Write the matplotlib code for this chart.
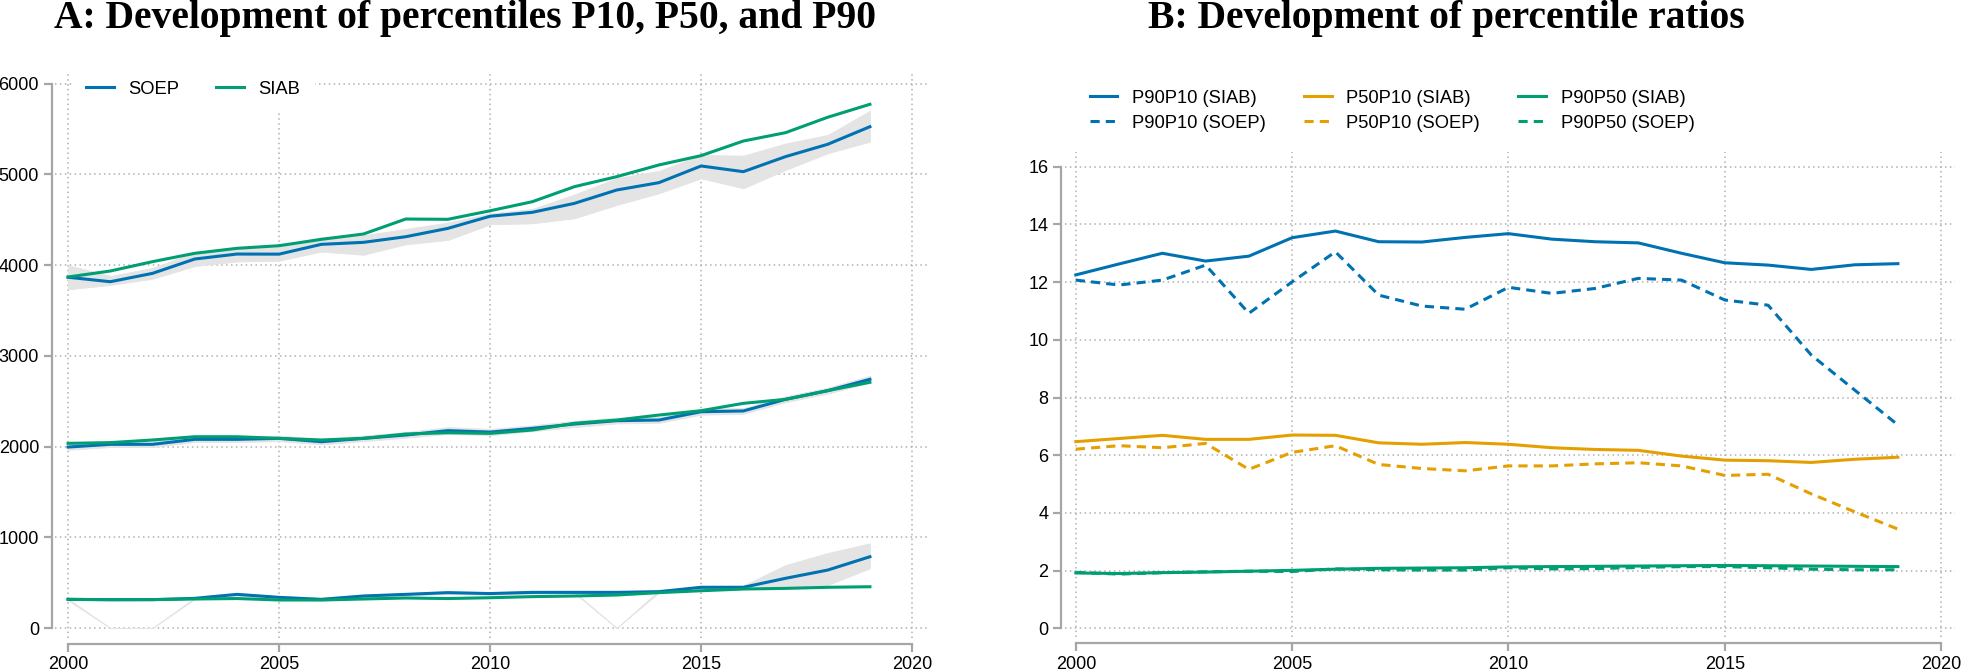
import numpy as np
import matplotlib
matplotlib.use("Agg")
import matplotlib.pyplot as plt

years = np.arange(2000, 2020)

# Panel A: percentiles (EUR)
p90_soep = [3867, 3818, 3910, 4068, 4123, 4122, 4230, 4252, 4314, 4406,
            4540, 4583, 4682, 4829, 4910, 5094, 5031, 5197, 5333, 5527]
p90_siab = [3870, 3936, 4039, 4131, 4186, 4215, 4285, 4344, 4509, 4506,
            4600, 4700, 4866, 4976, 5105, 5208, 5369, 5461, 5631, 5774]
p90_lo = [3734, 3782, 3850, 3990, 4040, 4050, 4150, 4115, 4230, 4278,
          4450, 4462, 4517, 4664, 4793, 4958, 4848, 5050, 5234, 5362]
p90_hi = [4000, 3881, 3970, 4140, 4190, 4200, 4310, 4330, 4400, 4470,
          4572, 4620, 4780, 4960, 5040, 5215, 5208, 5342, 5436, 5703]

p50_soep = [1995, 2025, 2025, 2080, 2080, 2091, 2054, 2091, 2128, 2176,
            2160, 2201, 2249, 2286, 2293, 2385, 2393, 2521, 2617, 2742]
p50_siab = [2036, 2044, 2073, 2109, 2109, 2091, 2073, 2091, 2139, 2153,
            2146, 2183, 2257, 2293, 2348, 2396, 2477, 2521, 2617, 2709]
p50_lo = [1965, 1995, 1995, 2050, 2050, 2060, 2025, 2060, 2098, 2140,
          2125, 2170, 2215, 2255, 2262, 2352, 2362, 2490, 2585, 2705]
p50_hi = [2030, 2055, 2058, 2112, 2112, 2122, 2085, 2122, 2160, 2215,
          2195, 2235, 2285, 2318, 2325, 2418, 2425, 2555, 2650, 2780]

p10_soep = [316, 312, 313, 327, 371, 338, 316, 353, 371, 390,
            380, 393, 393, 393, 401, 449, 449, 548, 639, 786]
p10_siab = [316, 313, 313, 320, 325, 309, 309, 320, 331, 325,
            334, 346, 353, 364, 390, 411, 430, 437, 449, 455]
p10_lo = [305, 0, 0, 318, 355, 325, 300, 340, 358, 375,
          365, 378, 385, 0, 390, 430, 430, 445, 474, 658]
p10_hi = [325, 0, 0, 336, 388, 352, 332, 368, 385, 405,
          395, 408, 400, 0, 415, 465, 468, 694, 827, 934]

# Panel B: percentile ratios
p90p10_siab = [12.25, 12.63, 13.0, 12.73, 12.9, 13.54, 13.77, 13.4, 13.39, 13.55,
               13.68, 13.49, 13.4, 13.36, 13.0, 12.67, 12.59, 12.44, 12.6, 12.64]
p90p10_soep = [12.07, 11.9, 12.07, 12.59, 10.92, 12.01, 13.05, 11.55, 11.17, 11.06,
               11.82, 11.61, 11.78, 12.13, 12.07, 11.38, 11.2, 9.47, 8.26, 7.05]
p50p10_siab = [6.47, 6.58, 6.69, 6.55, 6.55, 6.7, 6.69, 6.43, 6.38, 6.44,
               6.38, 6.26, 6.2, 6.17, 5.97, 5.83, 5.81, 5.75, 5.86, 5.93]
p50p10_soep = [6.21, 6.33, 6.26, 6.41, 5.51, 6.1, 6.33, 5.68, 5.54, 5.46,
               5.63, 5.63, 5.7, 5.74, 5.63, 5.3, 5.34, 4.66, 4.04, 3.44]
p90p50_siab = [1.92, 1.9, 1.93, 1.95, 1.98, 2.01, 2.05, 2.08, 2.09, 2.1,
               2.13, 2.14, 2.15, 2.16, 2.17, 2.18, 2.17, 2.16, 2.15, 2.14]
p90p50_soep = [1.94, 1.88, 1.93, 1.96, 1.98, 1.97, 2.06, 2.03, 2.02, 2.02,
               2.1, 2.06, 2.07, 2.11, 2.14, 2.14, 2.1, 2.05, 2.03, 2.03]

blue = "#0072B2"
green = "#009E73"
orange = "#E69F00"
band = "#e4e4e4"
axgrey = "#a6a6a6"

plt.rcParams["font.family"] = ["Liberation Sans", "DejaVu Sans"]

W, H = 1961, 670
fig = plt.figure(figsize=(W / 100, H / 100), dpi=100)


def rect(l, t, r, b):
    return [l / W, 1 - b / H, (r - l) / W, (b - t) / H]


def style(ax, ybounds, yticks):
    ax.grid(True, color="#b0b0b0", linestyle=(0, (1, 2.2)), linewidth=1.1)
    ax.set_axisbelow(True)
    for s in ["top", "right"]:
        ax.spines[s].set_visible(False)
    ax.spines["left"].set_position(("outward", 2.5))
    ax.spines["bottom"].set_position(("outward", 4))
    for s in ["left", "bottom"]:
        ax.spines[s].set_color(axgrey)
        ax.spines[s].set_linewidth(1.6)
    ax.spines["left"].set_bounds(*ybounds)
    ax.spines["bottom"].set_bounds(2000, 2020)
    ax.set_xticks([2000, 2005, 2010, 2015, 2020])
    ax.set_yticks(yticks)
    ax.tick_params(length=6, width=1.6, color=axgrey, labelsize=13, pad=3)


# ---- Panel A
ax1 = fig.add_axes(rect(55, 72, 929, 638))
for lo, hi in [(p90_lo, p90_hi), (p50_lo, p50_hi), (p10_lo, p10_hi)]:
    ax1.fill_between(years, lo, hi, color=band, linewidth=0.6, edgecolor=band)
ax1.plot(years, p90_soep, color=blue, lw=2.2, label="SOEP")
ax1.plot(years, p90_siab, color=green, lw=2.2, label="SIAB")
ax1.plot(years, p50_soep, color=blue, lw=2.2)
ax1.plot(years, p50_siab, color=green, lw=2.2)
ax1.plot(years, p10_soep, color=blue, lw=2.2)
ax1.plot(years, p10_siab, color=green, lw=2.2)
ax1.set_xlim(1999.69, 2020.4)
ax1.set_ylim(-110, 6130)
style(ax1, (0, 6000), [0, 1000, 2000, 3000, 4000, 5000, 6000])
leg1 = ax1.legend(loc="center left", bbox_to_anchor=(63 / W, 1 - 89 / H),
                  bbox_transform=fig.transFigure, ncol=2, fontsize=13.2,
                  frameon=True, fancybox=False, borderpad=0.75,
                  handlelength=1.55, handletextpad=0.75, columnspacing=2.0)
leg1.get_frame().set_facecolor("white")
leg1.get_frame().set_edgecolor("white")
leg1.get_frame().set_alpha(1)

# ---- Panel B
ax2 = fig.add_axes(rect(1065, 152, 1955, 637))
ax2.plot(years, p90p10_siab, color=blue, lw=2.2, label="P90P10 (SIAB)")
ax2.plot(years, p90p10_soep, color=blue, lw=2.2, ls=(0, (3, 2)), label="P90P10 (SOEP)")
ax2.plot(years, p50p10_siab, color=orange, lw=2.2, label="P50P10 (SIAB)")
ax2.plot(years, p50p10_soep, color=orange, lw=2.2, ls=(0, (3, 2)), label="P50P10 (SOEP)")
ax2.plot(years, p90p50_siab, color=green, lw=2.2, label="P90P50 (SIAB)")
ax2.plot(years, p90p50_soep, color=green, lw=2.2, ls=(0, (3, 2)), label="P90P50 (SOEP)")
ax2.set_xlim(1999.75, 2020.32)
ax2.set_ylim(-0.3, 16.51)
style(ax2, (0, 16), [0, 2, 4, 6, 8, 10, 12, 14, 16])
ax2.spines["left"].set_position(("outward", 3))
ax2.spines["bottom"].set_position(("outward", 4.5))
ax2.legend(loc="center left", bbox_to_anchor=(1073 / W, 1 - 110.7 / H),
           bbox_transform=fig.transFigure, ncol=3, fontsize=13.2,
           frameon=False, borderpad=0.4, labelspacing=0.45,
           handlelength=1.5, handletextpad=0.8, columnspacing=2.1)

# ---- titles
title_kw = dict(family=["Liberation Serif", "DejaVu Serif"], weight="bold",
                fontsize=28.5, ha="center", va="baseline")
fig.text(465 / W, 1 - 28 / H, "A: Development of percentiles P10, P50, and P90", **title_kw)
fig.text(1446 / W, 1 - 28 / H, "B: Development of percentile ratios", **title_kw)

fig.savefig("out.png", dpi=100)
